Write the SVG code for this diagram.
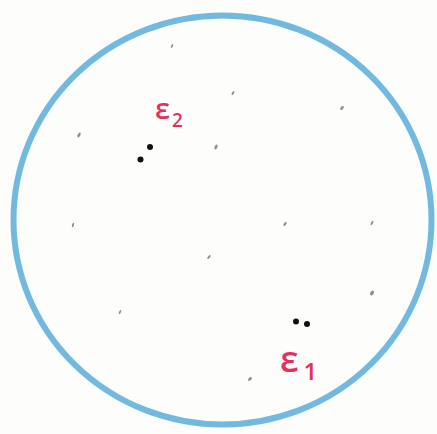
<svg xmlns="http://www.w3.org/2000/svg" width="437" height="434" viewBox="0 0 437 434">
<style>
.lbl{font-family:"Open Sans","DejaVu Sans",sans-serif;fill:#e4305c;font-weight:600}
.fleck{fill:#7a7a7a;opacity:0.85}
.dot{fill:#111}
</style>
<rect width="437" height="434" fill="#fdfdfc"/>
<g id="boundary">
<ellipse cx="222.5" cy="220" rx="209" ry="204.5" fill="none" stroke="#62b1dc" stroke-width="6" opacity="0.9"/>
</g>
<g id="flecks">
<ellipse class="fleck" cx="172" cy="46" rx="0.9" ry="2.2" transform="rotate(20 172 46)"/>
<ellipse class="fleck" cx="233" cy="93" rx="1" ry="2.2" transform="rotate(30 233 93)"/>
<ellipse class="fleck" cx="342" cy="108" rx="1.4" ry="2.2" transform="rotate(40 342 108)"/>
<ellipse class="fleck" cx="79" cy="135" rx="1.3" ry="2.6" transform="rotate(30 79 135)"/>
<ellipse class="fleck" cx="216" cy="147" rx="1.4" ry="2.6" transform="rotate(25 216 147)"/>
<ellipse class="fleck" cx="73" cy="225" rx="1" ry="2.4" transform="rotate(15 73 225)"/>
<ellipse class="fleck" cx="285" cy="224" rx="1.1" ry="2.4" transform="rotate(35 285 224)"/>
<ellipse class="fleck" cx="372" cy="223" rx="1" ry="2.4" transform="rotate(30 372 223)"/>
<ellipse class="fleck" cx="209" cy="257" rx="1" ry="2.4" transform="rotate(40 209 257)"/>
<ellipse class="fleck" cx="372" cy="293" rx="1.7" ry="2.6" transform="rotate(30 372 293)"/>
<ellipse class="fleck" cx="120" cy="312" rx="0.9" ry="2.2" transform="rotate(25 120 312)"/>
<ellipse class="fleck" cx="250" cy="379" rx="1.4" ry="2.2" transform="rotate(50 250 379)"/>
</g>
<g id="pair2">
<circle class="dot" cx="150" cy="147" r="3"/>
<circle class="dot" cx="140.5" cy="159.5" r="3"/>
</g>
<g id="pair1">
<circle class="dot" cx="296" cy="321.5" r="3"/>
<circle class="dot" cx="307" cy="324" r="3"/>
</g>
<g id="label-e2">
<text class="lbl" x="155" y="119" font-size="29">ε<tspan font-size="19" dy="8" dx="2">2</tspan></text>
</g>
<g id="label-e1">
<text class="lbl" x="280" y="372" font-size="36">ε<tspan font-size="24" dy="8" dx="5">1</tspan></text>
</g>
</svg>
